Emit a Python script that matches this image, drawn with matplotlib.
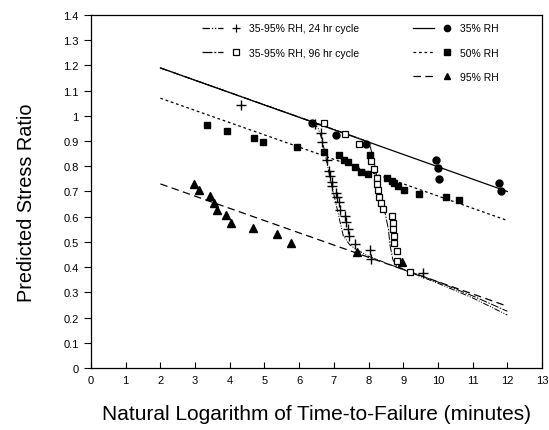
import matplotlib
matplotlib.use("Agg")
import matplotlib.pyplot as plt
from matplotlib.legend_handler import HandlerTuple
from matplotlib.lines import Line2D

plt.rcParams["font.family"] = ["Liberation Sans", "DejaVu Sans"]

# fitted constant-humidity lines (end points)
fit_x = [2.0, 12.0]
fit35_y = [1.19, 0.70]
fit50_y = [1.07, 0.585]
fit95_y = [0.73, 0.245]

# cyclic humidity model curves
cyc24_x = [2.0, 6.40, 6.55, 6.65, 6.75, 6.85, 6.98, 7.08, 7.16, 7.27, 7.46, 7.65, 8.0, 9.0, 10.0, 11.0, 12.0]
cyc24_y = [1.19, 0.975, 0.95, 0.91, 0.85, 0.78, 0.70, 0.64, 0.59, 0.525, 0.488, 0.47, 0.443, 0.39, 0.336, 0.278, 0.21]
cyc96_x = [2.0, 7.85, 8.04, 8.16, 8.25, 8.33, 8.47, 8.57, 8.62, 8.70, 8.80, 9.0, 10.0, 11.0, 12.0]
cyc96_y = [1.19, 0.905, 0.883, 0.817, 0.75, 0.684, 0.618, 0.552, 0.485, 0.43, 0.405, 0.392, 0.341, 0.286, 0.225]

# measured points
rh35_x = [6.36, 7.06, 7.92, 9.94, 10.01, 10.04, 11.77, 11.83]
rh35_y = [0.972, 0.926, 0.889, 0.823, 0.792, 0.75, 0.734, 0.70]
rh50_x = [3.35, 3.93, 4.70, 4.95, 5.93, 6.71, 7.16, 7.30, 7.42, 7.61, 7.78, 7.99, 8.04,
          8.54, 8.67, 8.74, 8.86, 9.02, 9.45, 10.23, 10.61]
rh50_y = [0.964, 0.938, 0.913, 0.895, 0.876, 0.858, 0.843, 0.823, 0.816, 0.796, 0.776, 0.768, 0.845,
          0.752, 0.743, 0.733, 0.723, 0.704, 0.691, 0.679, 0.668]
rh95_x = [2.97, 3.12, 3.43, 3.54, 3.64, 3.89, 4.03, 4.66, 5.35, 5.76, 7.66, 8.95]
rh95_y = [0.730, 0.704, 0.681, 0.653, 0.628, 0.607, 0.575, 0.554, 0.532, 0.496, 0.460, 0.419]
c24_x = [4.31, 6.46, 6.62, 6.65, 6.79, 6.86, 6.89, 6.94, 6.96, 7.06, 7.08, 7.16, 7.19,
         7.32, 7.35, 7.40, 7.44, 7.61, 8.04, 8.07, 9.58]
c24_y = [1.044, 0.968, 0.931, 0.895, 0.823, 0.783, 0.760, 0.737, 0.723, 0.694, 0.677, 0.657, 0.628,
         0.604, 0.578, 0.552, 0.525, 0.492, 0.466, 0.433, 0.377]
c96_x = [6.72, 7.32, 7.73, 8.07, 8.16, 8.23, 8.25, 8.28, 8.30, 8.35, 8.42, 8.67, 8.69, 8.69,
         8.72, 8.74, 8.81, 8.83, 9.19]
c96_y = [0.971, 0.928, 0.889, 0.820, 0.790, 0.752, 0.730, 0.704, 0.680, 0.655, 0.631, 0.602, 0.575, 0.550,
         0.523, 0.497, 0.462, 0.426, 0.379]

x_ticks = list(range(0, 14))
y_ticks = [i / 10 for i in range(0, 15)]
y_tick_labels = ["0", "0.1", "0.2", "0.3", "0.4", "0.5", "0.6", "0.7", "0.8", "0.9",
                 "1", "1.1", "1.2", "1.3", "1.4"]

LS_24 = (0, (6, 1.5, 1, 1.5, 1, 1.5))
LS_96 = (0, (8, 1.5, 1.5, 1.5))
LS_50 = (0, (2.2, 2.2))
LS_95 = (0, (6, 3.5))
LW = 0.9

fig = plt.figure(figsize=(5.49, 4.31), dpi=100)
ax = fig.add_axes([0.1658, 0.1439, 0.8215, 0.819])

ax.plot(fit_x, fit35_y, color="black", lw=LW, ls="-")
ax.plot(fit_x, fit50_y, color="black", lw=LW, ls=LS_50)
ax.plot(fit_x, fit95_y, color="black", lw=LW, ls=LS_95)
ax.plot(cyc24_x, cyc24_y, color="black", lw=LW * 0.8, ls=LS_24)
ax.plot(cyc96_x, cyc96_y, color="black", lw=LW * 0.8, ls=LS_96)

ms = 5
ax.plot(rh35_x, rh35_y, "o", color="black", ms=ms, ls="none")
ax.plot(rh50_x, rh50_y, "s", color="black", ms=ms - 0.5, ls="none")
ax.plot(rh95_x, rh95_y, "^", color="black", ms=ms + 0.5, ls="none")
ax.plot(c24_x, c24_y, "+", color="black", ms=ms + 1.5, mew=1.0, ls="none")
ax.plot(c96_x, c96_y, "s", mfc="white", mec="black", mew=0.9, ms=ms, ls="none")

ax.set_xlim(0, 13)
ax.set_ylim(0, 1.4)
ax.set_xticks(x_ticks)
ax.set_yticks(y_ticks)
ax.set_yticklabels(y_tick_labels)
ax.tick_params(axis="x", direction="in", length=4, width=0.8, labelsize=8, pad=5)
ax.tick_params(axis="y", direction="out", length=5, width=0.8, labelsize=8, pad=4)
for sp in ax.spines.values():
    sp.set_linewidth(0.9)

ax.set_xlabel("Natural Logarithm of Time-to-Failure (minutes)", fontsize=15, labelpad=14)
ax.set_ylabel("Predicted Stress Ratio", fontsize=14.3)
ax.yaxis.set_label_coords(-0.122, 0.47)


def key(ls, marker, **kw):
    line = Line2D([], [], color="black", lw=LW, ls=ls)
    mark = Line2D([], [], color="black", marker=marker, ls="none", **kw)
    return (line, mark)


legend_kw = dict(
    frameon=False,
    fontsize=7.5,
    handler_map={tuple: HandlerTuple(ndivide=None, pad=0.3)},
    handlelength=4.2,
    handletextpad=0.25,
    labelspacing=1.35,
    borderpad=0,
    borderaxespad=0,
    loc="upper left",
)

left = ax.legend(
    [key(LS_24, "+", ms=6, mew=0.9), key(LS_96, "s", ms=4.5, mfc="white", mew=0.9)],
    ["35-95% RH, 24 hr cycle", "35-95% RH, 96 hr cycle"],
    bbox_to_anchor=(0.247, 0.976),
    **legend_kw,
)
ax.add_artist(left)
ax.legend(
    [key("-", "o", ms=4.5), key(LS_50, "s", ms=4.5), key(LS_95, "^", ms=5)],
    ["35% RH", "50% RH", "95% RH"],
    bbox_to_anchor=(0.715, 0.976),
    **legend_kw,
)

fig.savefig("out.png", dpi=100)
